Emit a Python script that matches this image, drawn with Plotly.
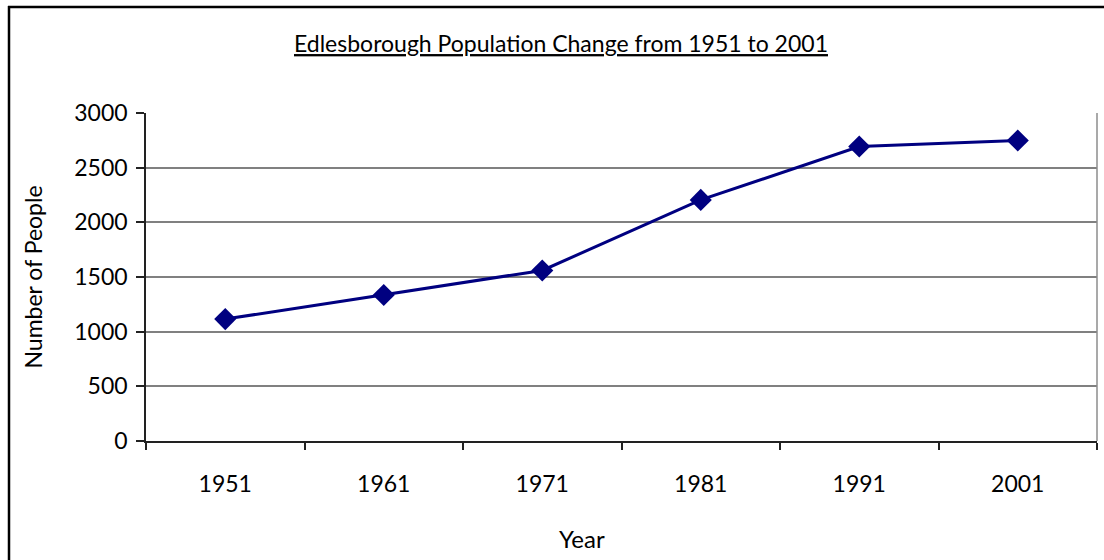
import plotly.graph_objects as go

years = ["1951", "1961", "1971", "1981", "1991", "2001"]
population = [1115, 1335, 1560, 2205, 2693, 2748]
y_ticks = [0, 500, 1000, 1500, 2000, 2500, 3000]

W, H = 1104, 560
L, R, T, B = 146, 7, 113, 119
plot_w = W - L - R
plot_h = H - T - B

FONT = "Lato"
NAVY = "#000080"
AXIS = "#222222"


def px_to_paper_x(px):
    return (px - L) / plot_w


def px_to_paper_y(py):
    return (H - B - py) / plot_h


fig = go.Figure()
fig.add_trace(go.Scatter(
    x=list(range(len(years))),
    y=population,
    mode="lines+markers",
    line=dict(color=NAVY, width=3),
    marker=dict(symbol="diamond", size=17, color=NAVY),
    showlegend=False,
))

# Outer chart frame: top and left edges (the rest runs off the page)
fig.add_shape(type="line", xref="paper", yref="paper",
              x0=px_to_paper_x(8), x1=px_to_paper_x(1104),
              y0=px_to_paper_y(7), y1=px_to_paper_y(7),
              line=dict(color="black", width=2.5), layer="below")
fig.add_shape(type="line", xref="paper", yref="paper",
              x0=px_to_paper_x(9), x1=px_to_paper_x(9),
              y0=px_to_paper_y(6), y1=px_to_paper_y(560),
              line=dict(color="black", width=2.5), layer="below")

# Right edge of the plot area
fig.add_shape(type="line", xref="paper", yref="paper",
              x0=1, x1=1, y0=0, y1=1,
              line=dict(color="#8c8c8c", width=1.5))

# x-axis title, placed left of the plot centre
fig.add_annotation(
    text="Year", xref="paper", yref="paper",
    x=px_to_paper_x(582), y=px_to_paper_y(538),
    xanchor="center", yanchor="middle", showarrow=False,
    font=dict(family=FONT, size=24, color="black"),
)

fig.update_layout(
    width=W, height=H,
    margin=dict(l=L, r=R, t=T, b=B),
    paper_bgcolor="white",
    plot_bgcolor="white",
    font=dict(family=FONT, size=23, color="black"),
    title=dict(
        text="<u>Edlesborough Population Change from 1951 to 2001</u>",
        x=px_to_paper_x(561), xref="paper", xanchor="center",
        y=1 - 44 / H, yref="container", yanchor="middle",
        font=dict(family=FONT, size=23, color="black"),
    ),
    xaxis=dict(
        range=[-0.5, len(years) - 0.5],
        tickmode="array",
        tickvals=list(range(len(years))),
        ticktext=years,
        showgrid=False,
        showline=True, linecolor=AXIS, linewidth=1.5,
        ticks="",
        ticklabelstandoff=22,
        minor=dict(tick0=-0.5, dtick=1, ticks="outside", ticklen=7,
                   tickcolor=AXIS, tickwidth=1.5, showgrid=False),
        tickfont=dict(family=FONT, size=23),
        zeroline=False,
        fixedrange=True,
    ),
    yaxis=dict(
        range=[0, 3000],
        tickmode="array",
        tickvals=y_ticks,
        showgrid=True, gridcolor="#808080", gridwidth=1.5,
        showline=True, linecolor=AXIS, linewidth=1.5,
        ticks="outside", ticklen=8, tickcolor=AXIS, tickwidth=1.5,
        ticklabelstandoff=4,
        tickfont=dict(family=FONT, size=23),
        title=dict(text="Number of People", font=dict(family=FONT, size=23), standoff=25),
        zeroline=False,
        fixedrange=True,
    ),
)

fig.write_html("out.html")
